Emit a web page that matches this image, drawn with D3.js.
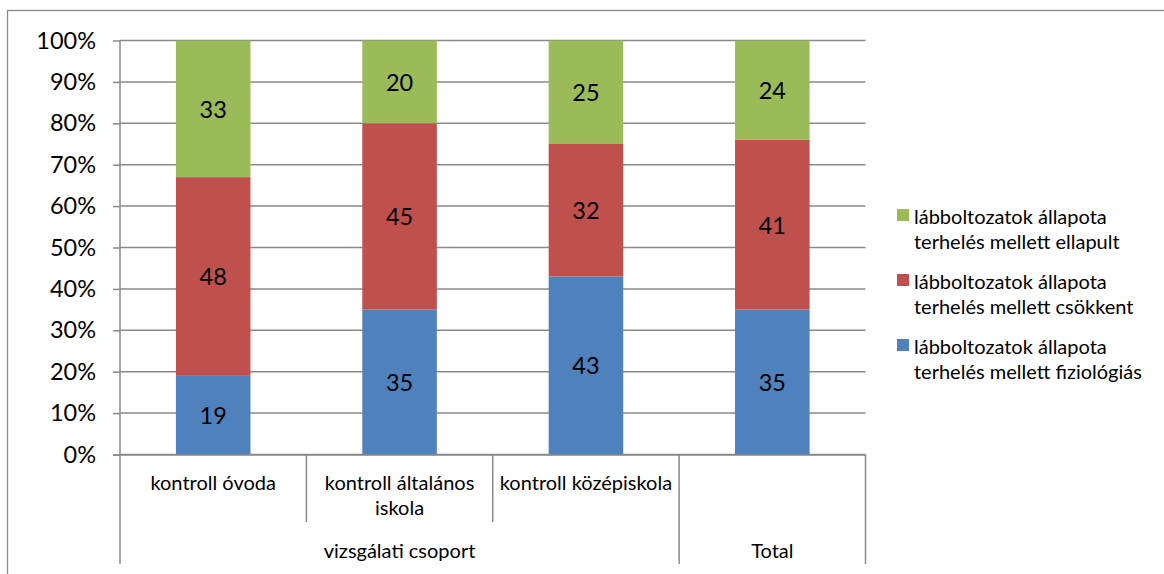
<!DOCTYPE html>
<html><head><meta charset="utf-8">
<script src="https://cdn.jsdelivr.net/npm/d3@7"></script>
<style>body{margin:0;background:#fff;overflow:hidden} text{font-family:Lato,"Open Sans",sans-serif;fill:#000}</style>
</head><body>
<svg id="c" width="1164" height="574"></svg>
<script>
// ---- data ----
const categories = ["kontroll óvoda", "kontroll általános iskola", "kontroll középiskola", "Total"];
const categoryLabelLines = [["kontroll óvoda"], ["kontroll általános", "iskola"], ["kontroll középiskola"], []];
const groupNames = ["vizsgálati csoport", "Total"];
const groupSpans = [[0, 2], [3, 3]];
const seriesKeys = ["fiziologias", "csokkent", "ellapult"];
const seriesLabels = [
  ["lábboltozatok állapota", "terhelés mellett fiziológiás"],
  ["lábboltozatok állapota", "terhelés mellett csökkent"],
  ["lábboltozatok állapota", "terhelés mellett ellapult"]
];
const fiziologias = [19, 35, 43, 35];
const csokkent = [48, 45, 32, 41];
const ellapult = [33, 20, 25, 24];
const yTicks = [0, 0.1, 0.2, 0.3, 0.4, 0.5, 0.6, 0.7, 0.8, 0.9, 1];
const colors = {fiziologias: "#4F81BD", csokkent: "#C0504D", ellapult: "#9BBB59"};

// ---- layout ----
const svg = d3.select("#c");
const L = 120, R = 865.5, T = 40.5, B = 454.5;
const gridColor = "#8a8a8a";
const labelSize = 20;

svg.append("rect").attr("x", 7.5).attr("y", 10.5).attr("width", 1200).attr("height", 620)
  .attr("fill", "none").attr("stroke", gridColor).attr("stroke-width", 1.3);

const rows = categories.map((c, i) => ({cat: c, fiziologias: fiziologias[i], csokkent: csokkent[i], ellapult: ellapult[i]}));
const stack = d3.stack().keys(seriesKeys).offset(d3.stackOffsetExpand)(rows);

const x = d3.scaleBand().domain(categories).range([L, R]).paddingInner(0).paddingOuter(0);
const y = d3.scaleLinear().domain([0, 1]).range([B, T]);
const barW = x.bandwidth() * 0.4;

// gridlines + ticks
const yAxis = d3.axisLeft(y).tickValues(yTicks).tickFormat(d3.format(".0%")).tickSize(7).tickPadding(17);
const ga = svg.append("g").attr("transform", `translate(${L},0)`).call(yAxis);
ga.select(".domain").remove();
ga.selectAll(".tick line").attr("stroke", gridColor).attr("stroke-width", 1.5);
ga.selectAll(".tick text").attr("font-size", 23.5).attr("font-family", "Lato");
svg.append("g").selectAll("line").data(yTicks).join("line")
  .attr("x1", L).attr("x2", R).attr("y1", d => y(d)).attr("y2", d => y(d))
  .attr("stroke", gridColor).attr("stroke-width", 1.5);

// bars
const sg = svg.append("g").selectAll("g").data(stack).join("g").attr("fill", d => colors[d.key]);
sg.selectAll("rect").data(d => d).join("rect")
  .attr("x", d => x(d.data.cat) + (x.bandwidth() - barW) / 2)
  .attr("width", barW)
  .attr("y", d => y(d[1]))
  .attr("height", d => y(d[0]) - y(d[1]));
// data labels
const lg = svg.append("g").selectAll("g").data(stack).join("g");
lg.selectAll("text").data(d => d.map(v => ({v, key: d.key}))).join("text")
  .attr("x", d => x(d.v.data.cat) + x.bandwidth() / 2)
  .attr("y", d => (y(d.v[0]) + y(d.v[1])) / 2)
  .attr("text-anchor", "middle").attr("dominant-baseline", "central")
  .attr("font-size", 23.5)
  .text(d => d.v.data[d.key]);

// vertical axis line
svg.append("line").attr("x1", L).attr("x2", L).attr("y1", T).attr("y2", 564)
  .attr("stroke", gridColor).attr("stroke-width", 1.5);
// x axis line
svg.append("line").attr("x1", 113).attr("x2", R).attr("y1", B + 0.5).attr("y2", B + 0.5)
  .attr("stroke", gridColor).attr("stroke-width", 1.5);

// category dividers
categories.forEach((c, i) => {
  if (i === 0) return;
  const isGroupEdge = groupSpans.some(s => s[0] === i);
  svg.append("line").attr("x1", x(c)).attr("x2", x(c)).attr("y1", B).attr("y2", isGroupEdge ? 564 : 522)
    .attr("stroke", gridColor).attr("stroke-width", 1.5);
});
svg.append("line").attr("x1", R).attr("x2", R).attr("y1", B).attr("y2", 564)
  .attr("stroke", gridColor).attr("stroke-width", 1.5);

// category labels
categories.forEach((c, i) => {
  const t = svg.append("text").attr("x", x(c) + x.bandwidth() / 2).attr("y", 482)
    .attr("text-anchor", "middle").attr("font-size", labelSize);
  categoryLabelLines[i].forEach((ln, j) => {
    t.append("tspan").attr("x", x(c) + x.bandwidth() / 2).attr("y", 482 + j * 25)
      .attr("dominant-baseline", "central").text(ln);
  });
});
// group labels
groupNames.forEach((g, i) => {
  const a = x(categories[groupSpans[i][0]]);
  const b = x(categories[groupSpans[i][1]]) + x.bandwidth();
  svg.append("text").attr("x", (a + b) / 2).attr("y", 550).attr("text-anchor", "middle")
    .attr("dominant-baseline", "central").attr("font-size", labelSize).text(g);
});

// legend (reverse order)
const legendOrder = [2, 1, 0];
legendOrder.forEach((si, k) => {
  const cy = 215 + k * 65;
  svg.append("rect").attr("x", 897).attr("y", cy - 6).attr("width", 12).attr("height", 12)
    .attr("fill", colors[seriesKeys[si]]);
  seriesLabels[si].forEach((ln, j) => {
    svg.append("text").attr("x", 914).attr("y", cy + 1 + j * 25).attr("dominant-baseline", "central")
      .attr("font-size", labelSize).text(ln);
  });
});
</script>
</body></html>
